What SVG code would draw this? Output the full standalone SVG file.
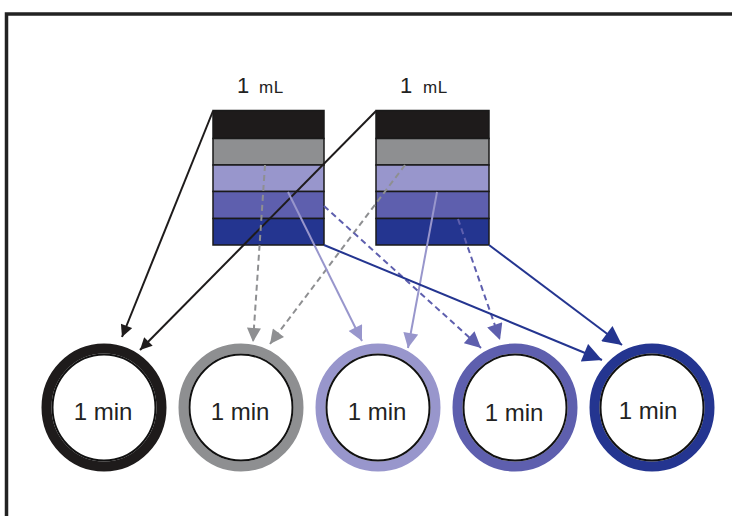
<svg xmlns="http://www.w3.org/2000/svg" width="732" height="516" viewBox="0 0 732 516">
<style>
.frame{fill:none;stroke:#222;stroke-width:3.5}
.lay{stroke:#1a1a1a;stroke-width:1.5}
.ring{fill:white;stroke-width:10}
.inner{fill:none;stroke:#111;stroke-width:2}
.t{font-family:"Liberation Sans",Arial,sans-serif;fill:#222;text-anchor:middle;font-size:24px}
.big{font-family:"Liberation Sans",Arial,sans-serif;fill:#222;font-size:22px}
.sm{font-family:"Liberation Sans",Arial,sans-serif;fill:#222;font-size:17px;letter-spacing:0.5px}
.c{fill:none;stroke-width:2}
.dash{stroke-dasharray:6 4}
</style>
<defs>
<marker id="mk" viewBox="0 0 10 10" refX="10" refY="5" markerUnits="userSpaceOnUse" markerWidth="14" markerHeight="12" orient="auto"><path d="M0,0 L10,5 L0,10 z" fill="#1e1b1b"/></marker>
<marker id="mg" viewBox="0 0 10 10" refX="10" refY="5" markerUnits="userSpaceOnUse" markerWidth="15" markerHeight="14" orient="auto"><path d="M0,0 L10,5 L0,10 z" fill="#8e8f91"/></marker>
<marker id="ml" viewBox="0 0 10 10" refX="10" refY="5" markerUnits="userSpaceOnUse" markerWidth="16" markerHeight="15" orient="auto"><path d="M0,0 L10,5 L0,10 z" fill="#9896cc"/></marker>
<marker id="mm" viewBox="0 0 10 10" refX="10" refY="5" markerUnits="userSpaceOnUse" markerWidth="17" markerHeight="16" orient="auto"><path d="M0,0 L10,5 L0,10 z" fill="#5e5fae"/></marker>
<marker id="md" viewBox="0 0 10 10" refX="10" refY="5" markerUnits="userSpaceOnUse" markerWidth="22" markerHeight="19" orient="auto"><path d="M0,0 L10,5 L0,10 z" fill="#243590"/></marker>
</defs>
<rect width="732" height="516" fill="white"/>
<path class="frame" d="M6.5 516 V14 H732"/>

<g id="stack1">
<rect class="lay" x="213" y="110.5" width="111" height="28" fill="#1e1b1b"/>
<rect class="lay" x="213" y="138.5" width="111" height="26.5" fill="#8e8f91"/>
<rect class="lay" x="213" y="165" width="111" height="26.5" fill="#9896cc"/>
<rect class="lay" x="213" y="191.5" width="111" height="27" fill="#5e5fae"/>
<rect class="lay" x="213" y="218.5" width="111" height="26.5" fill="#243590"/>
<text class="big" x="237" y="93">1</text><text class="sm" x="259" y="93">mL</text>
</g>
<g id="stack2">
<rect class="lay" x="376" y="110.5" width="113" height="28" fill="#1e1b1b"/>
<rect class="lay" x="376" y="138.5" width="113" height="26.5" fill="#8e8f91"/>
<rect class="lay" x="376" y="165" width="113" height="26.5" fill="#9896cc"/>
<rect class="lay" x="376" y="191.5" width="113" height="27" fill="#5e5fae"/>
<rect class="lay" x="376" y="218.5" width="113" height="26.5" fill="#243590"/>
<text class="big" x="400" y="93">1</text><text class="sm" x="423" y="93">mL</text>
</g>

<g id="connectors">
<line class="c" stroke="#1e1b1b" x1="213" y1="111" x2="122" y2="337" marker-end="url(#mk)"/>
<line class="c" stroke="#1e1b1b" x1="376" y1="111" x2="140" y2="350" marker-end="url(#mk)"/>
<line class="c dash" stroke="#8e8f91" x1="265" y1="165" x2="253" y2="342" marker-end="url(#mg)"/>
<line class="c dash" stroke="#8e8f91" x1="405" y1="165" x2="270" y2="344" marker-end="url(#mg)"/>
<line class="c" stroke="#9896cc" x1="288" y1="192" x2="362" y2="341" marker-end="url(#ml)"/>
<line class="c" stroke="#9896cc" x1="437" y1="192" x2="408" y2="348" marker-end="url(#ml)"/>
<line class="c dash" stroke="#5e5fae" x1="324" y1="206" x2="481" y2="348" marker-end="url(#mm)"/>
<line class="c dash" stroke="#5e5fae" x1="458" y1="219" x2="500" y2="340" marker-end="url(#mm)"/>
<line class="c" stroke="#243590" x1="324" y1="245" x2="602" y2="360" marker-end="url(#md)"/>
<line class="c" stroke="#243590" x1="489" y1="245" x2="622" y2="345" marker-end="url(#md)"/>
</g>

<g id="circle1">
<ellipse class="ring" cx="104" cy="407.5" rx="57.5" ry="59" stroke="#1e1b1b"/>
<ellipse class="inner" cx="104" cy="407.5" rx="51.5" ry="53"/>
<text class="t" x="103" y="420">1 min</text>
</g>
<g id="circle2">
<ellipse class="ring" cx="241" cy="407.5" rx="57.5" ry="59" stroke="#8e8f91"/>
<ellipse class="inner" cx="241" cy="407.5" rx="51.5" ry="53"/>
<text class="t" x="240" y="420">1 min</text>
</g>
<g id="circle3">
<ellipse class="ring" cx="378" cy="407.5" rx="57.5" ry="59" stroke="#9896cc"/>
<ellipse class="inner" cx="378" cy="407.5" rx="51.5" ry="53"/>
<text class="t" x="377" y="420">1 min</text>
</g>
<g id="circle4">
<ellipse class="ring" cx="515" cy="407.5" rx="57.5" ry="59" stroke="#5e5fae"/>
<ellipse class="inner" cx="515" cy="407.5" rx="51.5" ry="53"/>
<text class="t" x="514" y="421">1 min</text>
</g>
<g id="circle5">
<ellipse class="ring" cx="652" cy="407.5" rx="57.5" ry="59" stroke="#243590"/>
<ellipse class="inner" cx="652" cy="407.5" rx="51.5" ry="53"/>
<text class="t" x="648" y="419">1 min</text>
</g>
</svg>
